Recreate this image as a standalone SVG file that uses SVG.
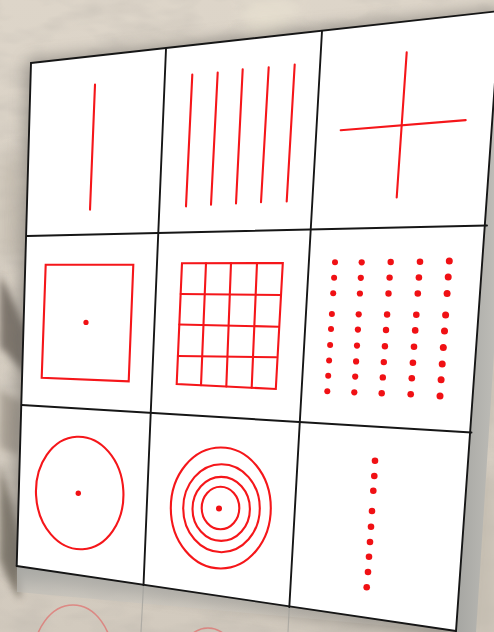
<svg xmlns="http://www.w3.org/2000/svg" width="494" height="632" viewBox="0 0 494 632">
<defs>
<style>
.g{stroke:#161616;stroke-width:1.9;fill:none;stroke-linecap:round}
.r{stroke:#f5161a;stroke-width:2.1;fill:none;stroke-linecap:round}
.d{fill:#f01014}
.rf{stroke:#e8484a;stroke-width:1.6;fill:none;opacity:.5}
</style>
<filter id="blur8" x="-20%" y="-20%" width="140%" height="140%"><feGaussianBlur stdDeviation="8"/></filter>
<filter id="blur4" x="-40%" y="-40%" width="180%" height="180%"><feGaussianBlur stdDeviation="3.5"/></filter>
<filter id="tex" x="0" y="0" width="100%" height="100%">
<feTurbulence type="fractalNoise" baseFrequency="0.02 0.05" numOctaves="3" seed="4" result="n"/>
<feColorMatrix in="n" type="matrix" values="0 0 0 0 0.45  0 0 0 0 0.42  0 0 0 0 0.38  0 0 0 1.4 -0.55"/>
</filter>
<linearGradient id="bg" x1="0" y1="0" x2="0" y2="1">
<stop offset="0" stop-color="#ddd5c9"/>
<stop offset="1" stop-color="#d2cabe"/>
</linearGradient>
<linearGradient id="side" x1="0" y1="0" x2="1" y2="0">
<stop offset="0" stop-color="#a6a6a2"/>
<stop offset="0.6" stop-color="#bbbab5"/>
<stop offset="1" stop-color="#d2cdc4"/>
</linearGradient>
<linearGradient id="bot" x1="0" y1="0" x2="0" y2="1">
<stop offset="0" stop-color="#a9a9a5"/>
<stop offset="1" stop-color="#d8d6d0" stop-opacity="0"/>
</linearGradient>
</defs>
<rect width="494" height="632" fill="url(#bg)"/>
<g id="background">
<rect width="494" height="632" filter="url(#tex)" opacity=".45"/>
<path d="M0 275 C10 292 18 312 26 330 L26 375 C15 362 5 350 0 348 Z" fill="#6f685e" filter="url(#blur4)" opacity=".85"/>
<path d="M0 465 C8 488 16 515 22 550 L20 600 C10 585 4 570 0 560 Z" fill="#776f64" filter="url(#blur4)" opacity=".85"/>
<path d="M0 390 L22 402 L20 455 L0 448 Z" fill="#9e9589" filter="url(#blur4)" opacity=".75"/>
<path d="M0 160 L20 150 L24 250 L0 260 Z" fill="#bfb7aa" filter="url(#blur8)" opacity=".7"/>
<path d="M240 0 L300 0 L290 30 L250 40 Z" fill="#e9e2d2" filter="url(#blur8)" opacity=".7"/>
<path d="M470 260 L494 250 L494 420 L480 440 Z" fill="#c6bfb3" filter="url(#blur8)"/>
<path d="M476 480 L494 470 L494 632 L470 632 Z" fill="#c4bdb1" filter="url(#blur8)"/>
</g>
<g id="shadow">
<polygon points="27,60 500,8 462,640 10,572" fill="#66645f" opacity=".55" filter="url(#blur8)"/>
</g>
<g id="panel-edge">
<polygon points="500,11 516,11 476,632 456,632" fill="url(#side)"/>
<polygon points="17,566 456,631 456,632 17,592" fill="url(#bot)"/>
</g>
<g id="reflection">
<line x1="143.5" y1="585" x2="141" y2="632" stroke="#9a9a96" stroke-width="1.2" opacity=".6"/>
<line x1="289.3" y1="607" x2="288" y2="632" stroke="#9a9a96" stroke-width="1.2" opacity=".6"/>
<ellipse cx="73" cy="660" rx="40" ry="55" class="rf"/>
<ellipse cx="208" cy="680" rx="34" ry="52" class="rf"/>
</g>
<g id="panel">
<polygon points="31,63 500,11 456,631 17,566" fill="#ffffff"/>
</g>
<g id="connectors">
<line class="g" x1="31" y1="63" x2="500" y2="11"/>
<line class="g" x1="27" y1="236" x2="487" y2="225.5"/>
<line class="g" x1="21.7" y1="405" x2="471.5" y2="432.5"/>
<line class="g" x1="16.7" y1="566" x2="456" y2="631"/>
<line class="g" x1="31" y1="63" x2="16.7" y2="566"/>
<line class="g" x1="166" y1="49" x2="143.5" y2="585"/>
<line class="g" x1="322" y1="31" x2="289.3" y2="607"/>
<line class="g" x1="500" y1="11" x2="456" y2="631"/>
</g>
<g id="cell-one-line">
<line class="r" x1="95" y1="84.6" x2="90" y2="209.6"/>
</g>
<g id="cell-five-lines">
<line class="r" x1="192.3" y1="74.6" x2="186" y2="206.4"/>
<line class="r" x1="217.7" y1="72.5" x2="211" y2="204.8"/>
<line class="r" x1="242.7" y1="69.3" x2="236" y2="203.5"/>
<line class="r" x1="268.7" y1="67.3" x2="261" y2="202.3"/>
<line class="r" x1="294.7" y1="64.5" x2="286.7" y2="201.5"/>
</g>
<g id="cell-cross">
<line class="r" x1="406.7" y1="52.4" x2="396.7" y2="197.5" stroke-width="2.3"/>
<line class="r" x1="340.7" y1="130.2" x2="465.7" y2="120.1" stroke-width="2.3"/>
</g>
<g id="cell-square">
<polygon class="r" points="45.7,264.8 133.3,264.8 128.7,381.3 41.7,377.7"/>
<circle class="d" cx="86" cy="322.4" r="2.6"/>
</g>
<g id="cell-grid">
<polygon class="r" points="182,263.3 282.8,263 275.8,389 176.7,384"/>
<line class="r" x1="206" y1="263.2" x2="201" y2="385.2"/>
<line class="r" x1="231" y1="263.1" x2="226.3" y2="386.5"/>
<line class="r" x1="257" y1="263.1" x2="251.7" y2="387.8"/>
<line class="r" x1="180.7" y1="294" x2="280.6" y2="295"/>
<line class="r" x1="179.3" y1="324.5" x2="278.3" y2="326.7"/>
<line class="r" x1="177.9" y1="356" x2="276.2" y2="357.3"/>
</g>
<g id="cell-dot-matrix" class="d">
<circle cx="335" cy="262.3" r="3"/><circle cx="334.1" cy="277.7" r="3"/><circle cx="333.2" cy="293.3" r="3"/><circle cx="331.9" cy="313.9" r="3"/><circle cx="331" cy="329.1" r="3"/><circle cx="330.1" cy="345" r="3"/><circle cx="329.1" cy="360.6" r="3"/><circle cx="328.2" cy="375.7" r="3"/><circle cx="327.3" cy="391.3" r="3"/>
<circle cx="361.7" cy="262.3" r="3.1"/><circle cx="360.8" cy="277.8" r="3.1"/><circle cx="359.9" cy="293.5" r="3.1"/><circle cx="358.7" cy="314.3" r="3.1"/><circle cx="357.9" cy="329.6" r="3.1"/><circle cx="357" cy="345.6" r="3.1"/><circle cx="356.1" cy="361.4" r="3.1"/><circle cx="355.2" cy="376.6" r="3.1"/><circle cx="354.3" cy="392.3" r="3.1"/>
<circle cx="390.7" cy="262" r="3.2"/><circle cx="389.6" cy="277.6" r="3.2"/><circle cx="388.5" cy="293.5" r="3.2"/><circle cx="387.1" cy="314.5" r="3.2"/><circle cx="386" cy="330" r="3.2"/><circle cx="384.9" cy="346.2" r="3.2"/><circle cx="383.8" cy="362.1" r="3.2"/><circle cx="382.8" cy="377.4" r="3.2"/><circle cx="381.7" cy="393.3" r="3.2"/>
<circle cx="420" cy="261.7" r="3.3"/><circle cx="418.9" cy="277.5" r="3.3"/><circle cx="417.8" cy="293.5" r="3.3"/><circle cx="416.3" cy="314.7" r="3.3"/><circle cx="415.2" cy="330.4" r="3.3"/><circle cx="414" cy="346.7" r="3.3"/><circle cx="412.9" cy="362.7" r="3.3"/><circle cx="411.8" cy="378.3" r="3.3"/><circle cx="410.7" cy="394.3" r="3.3"/>
<circle cx="449.3" cy="261" r="3.5"/><circle cx="448.2" cy="277.1" r="3.5"/><circle cx="447.1" cy="293.4" r="3.5"/><circle cx="445.6" cy="315" r="3.5"/><circle cx="444.5" cy="330.9" r="3.5"/><circle cx="443.3" cy="347.5" r="3.5"/><circle cx="442.2" cy="363.9" r="3.5"/><circle cx="441.1" cy="379.7" r="3.5"/><circle cx="440" cy="396" r="3.5"/>
</g>
<g id="cell-circle">
<ellipse class="r" cx="79.7" cy="493" rx="43.7" ry="56.3" transform="rotate(-3 79.7 493)"/>
<circle class="d" cx="78.3" cy="493.3" r="2.7"/>
</g>
<g id="cell-rings">
<ellipse class="r" cx="220.8" cy="508" rx="50" ry="60.5"/>
<ellipse class="r" cx="221.5" cy="508.2" rx="38.3" ry="44"/>
<ellipse class="r" cx="221.2" cy="508.9" rx="28.7" ry="32"/>
<ellipse class="r" cx="220.5" cy="508" rx="18.8" ry="21.2"/>
<circle class="d" cx="219" cy="508.5" r="3"/>
</g>
<g id="cell-dot-column" class="d">
<circle cx="375" cy="460.7" r="3.3"/><circle cx="374.3" cy="476" r="3.3"/><circle cx="373.3" cy="490.7" r="3.3"/><circle cx="372" cy="511" r="3.3"/><circle cx="371" cy="526.7" r="3.3"/><circle cx="370" cy="542" r="3.3"/><circle cx="369" cy="556.7" r="3.3"/><circle cx="368" cy="572" r="3.3"/><circle cx="366.7" cy="587.3" r="3.3"/>
</g>
</svg>
